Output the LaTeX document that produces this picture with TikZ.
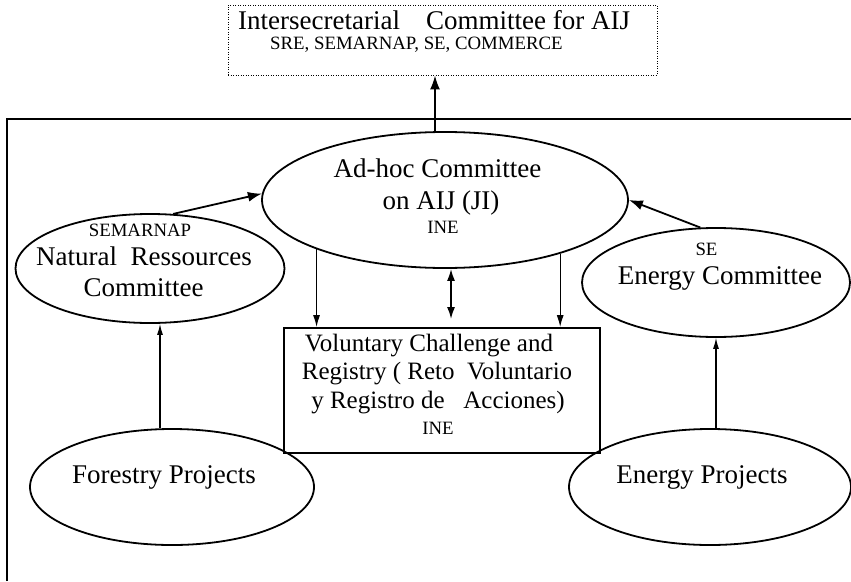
\documentclass[tikz,border=0pt]{standalone}
\usepackage{fontspec}
\setmainfont{Liberation Serif}
\usetikzlibrary{arrows.meta,shapes.geometric}
\begin{document}
\begin{tikzpicture}[x=1pt,y=-1pt]
\tikzset{
 ell/.style={draw, ellipse, line width=1.8pt, inner sep=0pt},
 vbox/.style={draw, rectangle, line width=1.8pt, inner sep=0pt},
 dotbox/.style={draw, line width=0.9pt, dash pattern=on 0.9pt off 1.6pt, inner sep=0pt},
 big/.style={font=\fontsize{27}{32}\selectfont, anchor=base, inner sep=0pt},
 mid/.style={font=\fontsize{25}{30}\selectfont, anchor=base, inner sep=0pt},
 sml/.style={font=\fontsize{18.8}{22}\selectfont, anchor=base, inner sep=0pt},
 arr/.style={line width=1.8pt, -{Latex[length=14pt,width=10pt]}},
 arrmid/.style={line width=1.3pt, -{Latex[length=12pt,width=7pt]}},
 arrthin/.style={line width=1.1pt, -{Latex[length=11pt,width=6pt]}},
 dbl/.style={line width=1.8pt, {Latex[length=12pt,width=8pt]}-{Latex[length=12pt,width=8pt]}},
 frame/.style={line width=1.6pt}
}
\useasboundingbox (0,0) rectangle (851,581);

% outer frame
\draw[frame] (7,581) -- (7,119) -- (851,119);

% top dotted box
\node[dotbox, minimum width=429pt, minimum height=70pt] (top) at (442.5,40) {};
\node[big, anchor=base west] (topt1) at (238,29) {Intersecretarial\hspace{26pt}Committee for AIJ};
\node[sml, anchor=base west] (topt2) at (270,49) {SRE, SEMARNAP, SE, COMMERCE};

% ad-hoc committee
\node[ell, minimum width=366pt, minimum height=136pt] (adhoc) at (445,200) {};
\node[big] (ah1) at (437.5,177) {Ad-hoc Committee};
\node[big] (ah2) at (441,209) {on AIJ (JI)};
\node[sml] (ah3) at (443,233) {INE};

% natural resources committee
\node[ell, minimum width=269pt, minimum height=109pt] (natres) at (150,268.5) {};
\node[sml] (nr1) at (140,236) {SEMARNAP};
\node[big] (nr2) at (144,265) {Natural\ \ Ressources};
\node[big] (nr3) at (143.5,296) {Committee};

% energy committee
\node[ell, minimum width=268pt, minimum height=109pt] (ecom) at (716,282.5) {};
\node[sml] (ec1) at (706.5,255) {SE};
\node[big] (ec2) at (720,284) {Energy Committee};

% voluntary challenge box
\node[vbox, minimum width=316pt, minimum height=125pt] (vc) at (442,390.5) {};
\node[mid] (vc1) at (429,351) {Voluntary Challenge and};
\node[mid] (vc2) at (437,379) {Registry (\ Reto\ \ Voluntario};
\node[mid] (vc3) at (438,408) {y Registro de\ \ \ Acciones)};
\node[sml] (vc4) at (438,434) {INE};

% projects
\node[ell, minimum width=284pt, minimum height=116pt] (forest) at (172,487) {};
\node[big] (fp) at (164,483) {Forestry Projects};
\node[ell, minimum width=282pt, minimum height=116pt] (eproj) at (710,487) {};
\node[big] (ep) at (702,483) {Energy Projects};

% connectors
\draw[arr] ([xshift=-10pt]adhoc.north) -- ([xshift=-10pt]adhoc.north |- top.south);
\draw[arr] (natres.67) -- (adhoc.178);
\draw[arr] (ecom.106) -- (adhoc.east);
\draw[arrmid] (adhoc.201.7) -- (adhoc.201.7 |- vc.north);
\draw[arrmid] (adhoc.335.3) -- (adhoc.335.3 |- vc.north);
\draw[dbl] (adhoc.275) -- ([yshift=8pt]adhoc.275 |- vc.north);
\draw[arrthin] ([xshift=10pt]natres.south |- forest.north) -- ([xshift=10pt]natres.south);
\draw[arrthin] (ecom.south |- eproj.north) -- (ecom.south);
\end{tikzpicture}
\end{document}
